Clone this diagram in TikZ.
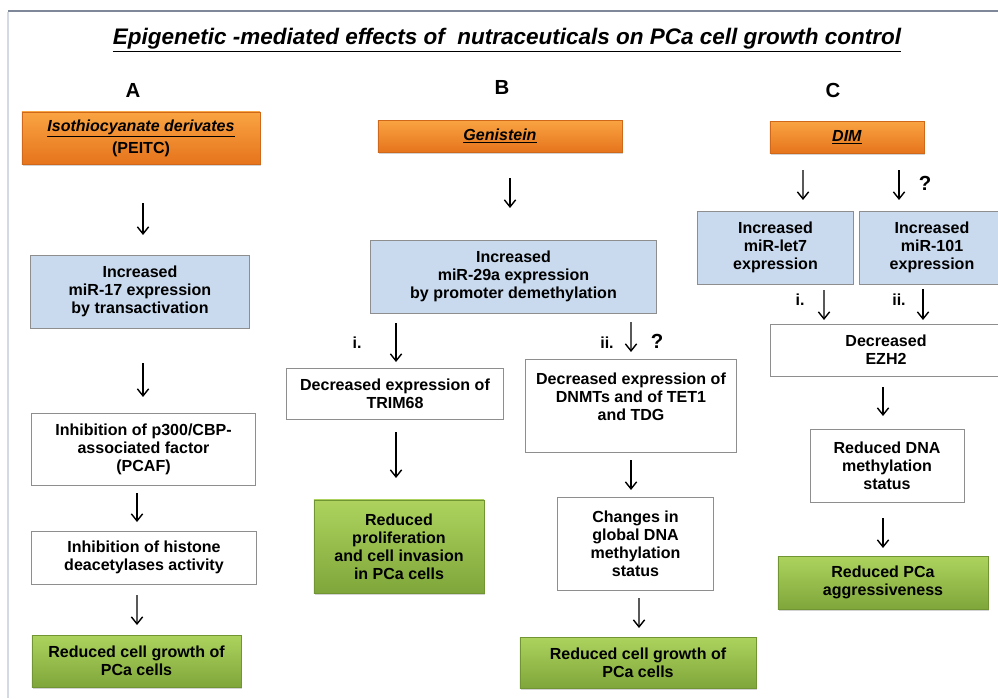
\documentclass[tikz,border=0pt]{standalone}
\usepackage{fontspec}
\setmainfont{Liberation Sans}
\usetikzlibrary{arrows.meta,shadows}

\definecolor{orgtop}{HTML}{F9A443}
\definecolor{orgbot}{HTML}{E6741C}
\definecolor{grntop}{HTML}{ADD35E}
\definecolor{grnbot}{HTML}{7FA63A}
\definecolor{blufill}{HTML}{C9DAEE}
\definecolor{boxline}{HTML}{8E8E8E}
\definecolor{framedark}{HTML}{7E8898}
\definecolor{framelite}{HTML}{D3DAE3}
\newcommand{\pxu}{0.025cm}

\tikzset{
  every node/.style={font=\bfseries\fontsize{11.4}{12.7}\selectfont, align=center, inner sep=2pt, outer sep=0pt},
  drug/.style={top color=orgtop, bottom color=orgbot, draw=orgbot!90!black, line width=0.3pt,
    drop shadow={shadow xshift=1pt, shadow yshift=-1.5pt, opacity=0.35}},
  mirna/.style={fill=blufill, draw=boxline, line width=0.7pt},
  stepbox/.style={fill=white, draw=boxline, line width=0.7pt},
  outcome/.style={top color=grntop, bottom color=grnbot, draw=grnbot!90!black, line width=0.3pt,
    drop shadow={shadow xshift=1pt, shadow yshift=-1.5pt, opacity=0.35}},
  panel/.style={font=\bfseries\fontsize{14.5}{16}\selectfont},
  route/.style={font=\bfseries\fontsize{11.4}{13}\selectfont},
  arr/.style={-{Straight Barb[length=5pt,width=8pt]}, line width=1pt},
  gap/.style 2 args={shorten <=#1*\pxu, shorten >=#2*\pxu}
}

\begin{document}
\begin{tikzpicture}[x=\pxu, y=-\pxu]
  \useasboundingbox (0,0) rectangle (998,698);
  \clip (0,0) rectangle (998,698);
  % frame
  \draw[framedark, line width=1.4pt] (8,11) -- (998,11);
  \draw[framelite, line width=1pt] (8,12) -- (8,698);
  % title
  \node (title) at (507,40) [font=\bfseries\itshape\fontsize{16}{19}\selectfont]
    {\underline{Epigenetic -mediated effects of~ nutraceuticals on PCa cell growth control}};
  \node (labA) at (133,90) [panel] {A};
  \node (labB) at (502,87) [panel] {B};
  \node (labC) at (833,90) [panel] {C};

  % column A
  \node (orgA) at (141,138) [drug, minimum width=5.95cm, minimum height=1.3cm]
    {\underline{\textit{Isothiocyanate derivates}}\\[3pt](PEITC)};
  \node (bluA) at (140,291.5) [mirna, minimum width=5.45cm, minimum height=1.825cm]
    {Increased\\miR-17 expression\\by transactivation};
  \node (pcaf) at (143.5,449) [stepbox, minimum width=5.575cm, minimum height=1.8cm]
    {Inhibition of p300/CBP-\\associated factor\\(PCAF)};
  \node (hdac) at (144,557.5) [stepbox, minimum width=5.6cm, minimum height=1.325cm]
    {Inhibition of histone\\deacetylases activity};
  \node (grnA) at (136.5,661) [outcome, minimum width=5.225cm, minimum height=1.3cm]
    {Reduced cell growth of\\PCa cells};
  \draw[arr, gap={39}{20}] ([xshift=2*\pxu]orgA.south) -- ([xshift=3*\pxu]bluA.north);
  \draw[arr, gap={35}{16}] ([xshift=3*\pxu]bluA.south) -- ([xshift=-0.5*\pxu]pcaf.north);
  \draw[arr, gap={8}{9}] ([xshift=-6.5*\pxu]pcaf.south) -- ([xshift=-7*\pxu]hdac.north);
  \draw[arr, gap={11}{10}] ([xshift=-7*\pxu]hdac.south) -- ([xshift=0.5*\pxu]grnA.north);

  % column B
  \node (orgB) at (500,136) [drug, minimum width=6.1cm, minimum height=0.8cm]
    {\underline{\textit{Genistein}}};
  \node (bluB) at (513.5,276.5) [mirna, minimum width=7.125cm, minimum height=1.825cm]
    {Increased\\miR-29a expression\\by promoter demethylation};
  \node (trim) at (395,393.5) [stepbox, minimum width=5.4cm, minimum height=1.275cm]
    {Decreased expression of\\TRIM68};
  \node (dnmt) at (631,405.5) [stepbox, minimum width=5.25cm, minimum height=2.325cm]
    {Decreased expression of\\DNMTs and of TET1\\and TDG\\\mbox{}};
  \node (grnB1) at (399,546.5) [outcome, minimum width=4.25cm, minimum height=2.325cm]
    {Reduced\\proliferation\\and cell invasion\\in PCa cells};
  \node (dnam) at (635.5,543.5) [stepbox, minimum width=3.875cm, minimum height=2.325cm]
    {Changes in\\global DNA\\methylation\\status};
  \node (grnB2) at (638,662.5) [outcome, minimum width=5.9cm, minimum height=1.275cm]
    {Reduced cell growth of\\PCa cells};
  \node (iB) at (357,343) [route] {i.};
  \node (iiB) at (607,343) [route] {ii.};
  \node (qB) at (657,341) [panel] {?};
  \draw[arr, gap={26}{32}] ([xshift=10*\pxu]orgB.south) -- ([xshift=-3.5*\pxu]bluB.north);
  \draw[arr, gap={10}{6}] ([xshift=-117.5*\pxu]bluB.south) -- ([xshift=1*\pxu]trim.north);
  \draw[arr, gap={9}{7}] ([xshift=117.5*\pxu]bluB.south) -- (dnmt.north);
  \draw[arr, gap={13}{22}] ([xshift=1*\pxu]trim.south) -- ([xshift=-3*\pxu]grnB1.north);
  \draw[arr, gap={8}{7}] (dnmt.south) -- ([xshift=-4.5*\pxu]dnam.north);
  \draw[arr, gap={8}{9}] ([xshift=3.5*\pxu]dnam.south) -- ([xshift=1*\pxu]grnB2.north);

  % column C
  \node (orgC) at (847,137) [drug, minimum width=3.85cm, minimum height=0.8cm]
    {\underline{\textit{DIM}}};
  \node (let7) at (775.5,247.5) [mirna, minimum width=3.875cm, minimum height=1.825cm]
    {Increased\\miR-let7\\expression};
  \node (m101) at (932,247.5) [mirna, minimum width=3.65cm, minimum height=1.825cm]
    {Increased\\miR-101\\expression};
  \node (ezh2) at (886,350) [stepbox, minimum width=5.75cm, minimum height=1.3cm]
    {Decreased\\EZH2};
  \node (redD) at (887,465.5) [stepbox, minimum width=3.85cm, minimum height=1.825cm]
    {Reduced DNA\\methylation\\status};
  \node (grnC) at (883,582.5) [outcome, minimum width=5.25cm, minimum height=1.325cm]
    {Reduced PCa\\aggressiveness};
  \node (qC) at (925,183) [panel] {?};
  \node (iC) at (800,300) [route] {i.};
  \node (iiC) at (899,300) [route] {ii.};
  \draw[arr, gap={17}{11}] ([xshift=-44*\pxu]orgC.south) -- ([xshift=27.5*\pxu]let7.north);
  \draw[arr, gap={17}{11}] ([xshift=52*\pxu]orgC.south) -- ([xshift=-33*\pxu]m101.north);
  \draw[arr, gap={6}{4}] ([xshift=48.5*\pxu]let7.south) -- ([xshift=-62*\pxu]ezh2.north);
  \draw[arr, gap={5}{4}] ([xshift=-9*\pxu]m101.south) -- ([xshift=37*\pxu]ezh2.north);
  \draw[arr, gap={11}{13}] ([xshift=-3*\pxu]ezh2.south) -- ([xshift=-4*\pxu]redD.north);
  \draw[arr, gap={16}{8}] ([xshift=-4*\pxu]redD.south) -- (grnC.north);
\end{tikzpicture}
\end{document}
